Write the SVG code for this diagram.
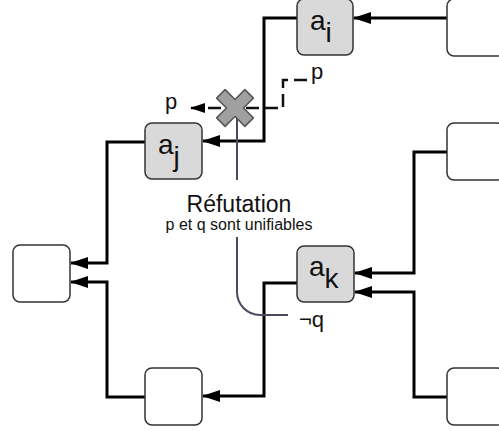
<svg xmlns="http://www.w3.org/2000/svg" width="499" height="431" viewBox="0 0 499 431">
<defs>
<style>
.box{stroke:#333;stroke-width:1.5}
.g{fill:#d9d9d9}
.w{fill:#fff}
.lbl{font-family:"Liberation Sans",Arial,sans-serif;font-size:28px;fill:#111}
.conn{fill:none;stroke:#000;stroke-width:3;marker-end:url(#arr)}
.t{font-family:"Liberation Sans",Arial,sans-serif;fill:#111}
.pq{font-size:22px}
</style>
<marker id="arr" markerUnits="userSpaceOnUse" markerWidth="18" markerHeight="12" refX="17" refY="6" orient="auto"><path d="M0,0 L18,6 L0,12 z" fill="#000"/></marker>
<marker id="sarr" markerUnits="userSpaceOnUse" markerWidth="15" markerHeight="10" refX="14" refY="5" orient="auto"><path d="M0,0 L15,5 L0,10 z" fill="#000"/></marker>
</defs>
<rect width="499" height="431" fill="#fff"/>
<g id="connectors">
<path class="conn" d="M447,18 H354"/>
<path class="conn" d="M297,18 H264 V141 H203"/>
<path class="conn" d="M145,142 H107 V263 H71"/>
<path class="conn" d="M145,397 H107 V282 H71"/>
<path class="conn" d="M297,283 H264 V396 H203"/>
<path class="conn" d="M447,152 H414 V273 H355"/>
<path class="conn" d="M447,397 H414 V292 H355"/>
<path d="M307,80 H283 V108 H191" fill="none" stroke="#111" stroke-width="2.5" stroke-dasharray="13,6" marker-end="url(#sarr)"/>
<path d="M237,116 V180 M237,237 V292 A23,23 0 0 0 260,315 H288" fill="none" stroke="#4b4b5e" stroke-width="2"/>
</g>
<g id="node-ai"><rect class="box g" x="297" y="-1" width="56" height="56" rx="7"/><text class="lbl" x="310" y="30">a<tspan dy="12">i</tspan></text></g>
<g id="node-aj"><rect class="box g" x="145" y="123" width="57" height="56" rx="7"/><text class="lbl" x="158" y="154">a<tspan dy="12">j</tspan></text></g>
<g id="node-ak"><rect class="box g" x="297" y="246" width="57" height="56" rx="7"/><text class="lbl" x="309" y="276">a<tspan dy="12">k</tspan></text></g>
<g id="node-left"><rect class="box w" x="13" y="245" width="57" height="57" rx="7"/></g>
<g id="node-bottom"><rect class="box w" x="145" y="368" width="57" height="57" rx="7"/></g>
<g id="node-r1"><rect class="box w" x="447" y="-1" width="57" height="57" rx="7"/></g>
<g id="node-r2"><rect class="box w" x="447" y="123" width="57" height="57" rx="7"/></g>
<g id="node-r3"><rect class="box w" x="447" y="368" width="57" height="57" rx="7"/></g>
<g id="cross"><path transform="translate(235,108) rotate(45)" d="M-6,-20 H6 V-6 H20 V6 H6 V20 H-6 V6 H-20 V-6 H-6 Z" fill="#a0a0a0" stroke="#555" stroke-width="1.5" stroke-linejoin="round"/></g>
<g id="labels">
<text class="t pq" x="165" y="109">p</text>
<text class="t pq" x="311" y="79">p</text>
<text class="t pq" x="299" y="327">¬q</text>
<text class="t" x="239" y="212" font-size="23" text-anchor="middle">Réfutation</text>
<text class="t" x="239" y="230" font-size="16" text-anchor="middle">p et q sont unifiables</text>
</g>
</svg>
